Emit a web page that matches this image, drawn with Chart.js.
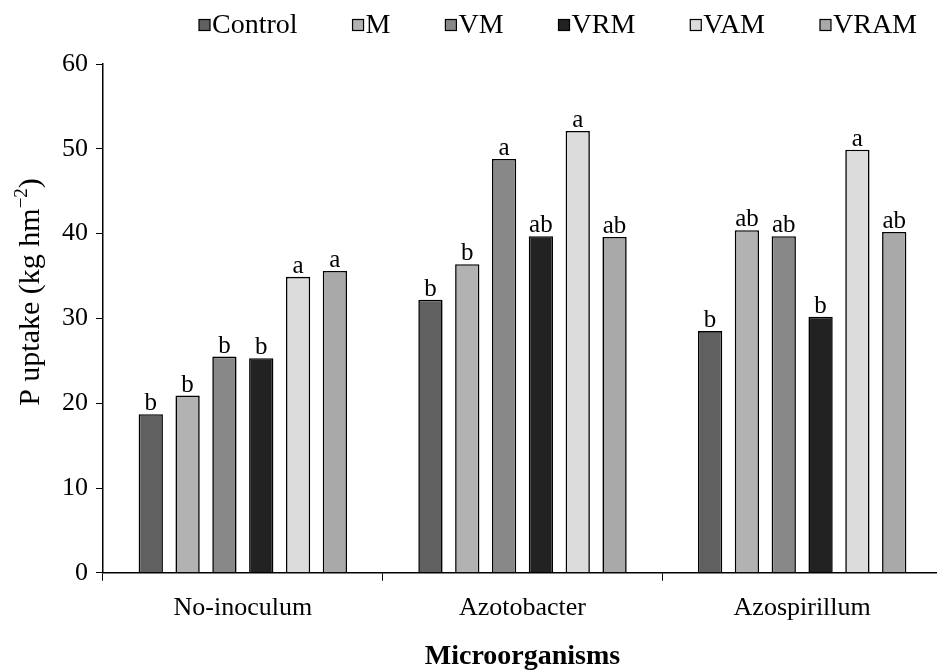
<!DOCTYPE html>
<html>
<head>
<meta charset="utf-8">
<script src="https://cdn.jsdelivr.net/npm/chart.js@4.4.1/dist/chart.umd.min.js"></script>
<style>
html,body{margin:0;padding:0;background:#fff;overflow:hidden;}
#wrap{width:942px;height:671px;}
</style>
</head>
<body>
<div id="wrap"><canvas id="c" width="942" height="671"></canvas></div>
<script>
const categories = ["No-inoculum", "Azotobacter", "Azospirillum"];
const seriesNames = ["Control", "M", "VM", "VRM", "VAM", "VRAM"];
const control = [18.7, 32.2, 28.5];
const m = [20.9, 36.4, 40.4];
const vm = [25.5, 48.8, 39.7];
const vrm = [25.3, 39.7, 30.2];
const vam = [34.9, 52.1, 49.9];
const vram = [35.6, 39.6, 40.2];
const lettersControl = ["b", "b", "b"];
const lettersM = ["b", "b", "ab"];
const lettersVM = ["b", "a", "ab"];
const lettersVRM = ["b", "ab", "b"];
const lettersVAM = ["a", "a", "a"];
const lettersVRAM = ["a", "ab", "ab"];
const yTicks = [0, 10, 20, 30, 40, 50, 60];
const yTitleMain = "P uptake (kg hm";
const yTitleSup = "\u22122";
const yTitleEnd = ")";
const xTitle = "Microorganisms";

const fills = ["#606060", "#b2b2b2", "#888888", "#222222", "#dcdcdc", "#a9a9a9"];
const values = [control, m, vm, vrm, vam, vram];
const letters = [lettersControl, lettersM, lettersVM, lettersVRM, lettersVAM, lettersVRAM];
const FONT = "'Liberation Serif', 'Times New Roman', serif";

const datasets = seriesNames.map((name, i) => ({
  label: name,
  data: values[i],
  backgroundColor: fills[i],
  borderColor: "#000",
  borderWidth: 1.6,
  letters: letters[i],
  categoryPercentage: 0.79,
  barPercentage: 0.66
}));

const letterPlugin = {
  id: "letters",
  afterDatasetsDraw(chart) {
    const ctx = chart.ctx;
    ctx.save();
    ctx.font = "25px " + FONT;
    ctx.fillStyle = "#000";
    ctx.textAlign = "center";
    ctx.textBaseline = "alphabetic";
    chart.data.datasets.forEach((ds, di) => {
      const meta = chart.getDatasetMeta(di);
      meta.data.forEach((bar, j) => {
        ctx.fillText(ds.letters[j], bar.x, bar.y - 4);
      });
    });
    ctx.restore();
  }
};

const legendPlugin = {
  id: "customLegend",
  afterDraw(chart) {
    const ctx = chart.ctx;
    ctx.save();
    ctx.font = "28px " + FONT;
    ctx.textBaseline = "middle";
    const box = 11, gapBT = 2;
    const left = 199, right = 917, yMid = 25;
    const widths = chart.data.datasets.map(ds => box + gapBT + ctx.measureText(ds.label).width);
    const total = widths.reduce((a, b) => a + b, 0);
    const gap = (right - left - total) / (widths.length - 1);
    let x = left;
    chart.data.datasets.forEach((ds, i) => {
      ctx.fillStyle = ds.backgroundColor;
      ctx.fillRect(x, yMid - box / 2, box, box);
      ctx.strokeStyle = "#000";
      ctx.lineWidth = 1.2;
      ctx.strokeRect(x, yMid - box / 2, box, box);
      ctx.fillStyle = "#000";
      ctx.fillText(ds.label, x + box + gapBT, yMid + 1);
      x += widths[i] + gap;
    });
    ctx.restore();
  }
};

const yTitlePlugin = {
  id: "yTitle",
  afterDraw(chart) {
    const ctx = chart.ctx;
    ctx.save();
    const cx = 29, cy = 292;
    ctx.translate(cx, cy);
    ctx.rotate(-Math.PI / 2);
    const mainFont = "30px " + FONT, supFont = "19px " + FONT;
    ctx.font = mainFont;
    const w1 = ctx.measureText(yTitleMain).width;
    const w3 = ctx.measureText(yTitleEnd).width;
    ctx.font = supFont;
    const w2 = ctx.measureText(yTitleSup).width;
    const total = w1 + w2 + w3;
    let x = -total / 2;
    ctx.fillStyle = "#000";
    ctx.textBaseline = "alphabetic";
    const base = 10;
    ctx.font = mainFont;
    ctx.fillText(yTitleMain, x, base);
    x += w1;
    ctx.font = supFont;
    ctx.fillText(yTitleSup, x, base - 12);
    x += w2;
    ctx.font = mainFont;
    ctx.fillText(yTitleEnd, x, base);
    ctx.restore();
  }
};

new Chart(document.getElementById("c"), {
  type: "bar",
  data: { labels: categories, datasets },
  plugins: [letterPlugin, legendPlugin, yTitlePlugin],
  options: {
    responsive: false,
    animation: false,
    devicePixelRatio: 1,
    layout: { padding: { top: 64, right: 0, bottom: 0, left: 0 } },
    plugins: { legend: { display: false }, tooltip: { enabled: false } },
    scales: {
      x: {
        grid: { offset: true, drawOnChartArea: false, drawTicks: true, tickLength: 8, color: "#000", lineWidth: 1 },
        border: { color: "#000", width: 1.5 },
        ticks: { color: "#000", font: { family: FONT, size: 26 }, padding: 12 },
        title: { display: true, text: xTitle, color: "#000", font: { family: FONT, size: 28, weight: "bold", lineHeight: 1.0 }, padding: { top: 7, bottom: 0 } }
      },
      y: {
        min: 0, max: 60,
        afterBuildTicks(axis) { axis.ticks = yTicks.map(v => ({ value: v })); },
        afterFit(axis) { axis.width = 103; },
        grid: { drawOnChartArea: false, drawTicks: true, tickLength: 7, color: "#000", lineWidth: 1 },
        border: { color: "#000", width: 1.5 },
        ticks: { color: "#000", font: { family: FONT, size: 26 }, padding: 8 },
        title: { display: false }
      }
    }
  }
});
</script>
</body>
</html>
